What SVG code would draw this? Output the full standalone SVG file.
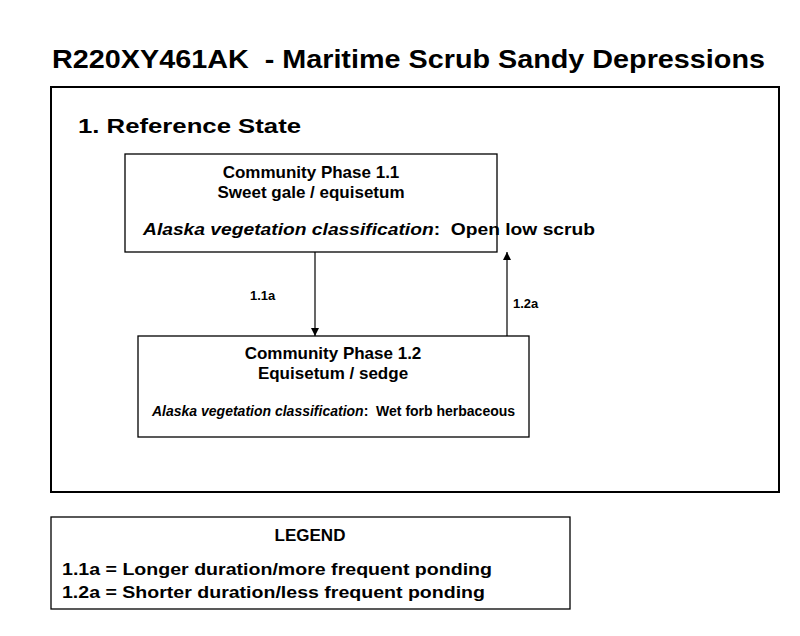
<svg xmlns="http://www.w3.org/2000/svg" width="800" height="636" viewBox="0 0 800 636" xml:space="preserve">
<style>
text{font-family:"Liberation Sans",Arial,sans-serif;font-weight:bold;fill:#000;white-space:pre}
.box{fill:#fff;stroke:#000;stroke-width:1.3}
.t{font-size:17px}
.c{text-anchor:middle}
.con{stroke:#000;stroke-width:1.2;fill:none}
</style>
<defs><marker id="ah" viewBox="0 0 10 10" refX="10" refY="5" markerWidth="8" markerHeight="8" markerUnits="userSpaceOnUse" orient="auto"><path d="M0,0L10,5L0,10z" fill="#000"/></marker></defs>
<rect width="800" height="636" fill="#fff"/>
<text x="52" y="68" font-size="25" textLength="713" lengthAdjust="spacingAndGlyphs">R220XY461AK  - Maritime Scrub Sandy Depressions</text>
<rect x="51" y="87" width="728" height="405" fill="none" stroke="#000" stroke-width="2"/>
<text x="78" y="133" font-size="21" textLength="223" lengthAdjust="spacingAndGlyphs">1. Reference State</text>
<g id="phase11">
<rect class="box" x="125" y="154" width="372" height="98"/>
<text class="t c" x="311" y="178">Community Phase 1.1</text>
<text class="t c" x="311" y="198">Sweet gale / equisetum</text>
<text class="t" x="143" y="235" textLength="452" lengthAdjust="spacingAndGlyphs"><tspan font-style="italic">Alaska vegetation classification</tspan>:  Open low scrub</text>
</g>
<g id="phase12">
<rect class="box" x="138" y="336" width="391" height="101"/>
<text class="t c" x="333" y="359">Community Phase 1.2</text>
<text class="t c" x="333" y="379">Equisetum / sedge</text>
<text x="152" y="416" font-size="14"><tspan font-style="italic">Alaska vegetation classification</tspan>:  Wet forb herbaceous</text>
</g>
<g id="connectors">
<line class="con" x1="315" y1="252" x2="315" y2="336" marker-end="url(#ah)"/>
<line class="con" x1="507" y1="336" x2="507" y2="252" marker-end="url(#ah)"/>
<text x="250" y="300" font-size="13">1.1a</text>
<text x="513" y="308" font-size="13">1.2a</text>
</g>
<g id="legend">
<rect class="box" x="51" y="517" width="519" height="92"/>
<text class="c" x="310" y="541" font-size="17">LEGEND</text>
<text x="62" y="575" font-size="17" textLength="430" lengthAdjust="spacingAndGlyphs">1.1a = Longer duration/more frequent ponding</text>
<text x="62" y="598" font-size="17" textLength="423" lengthAdjust="spacingAndGlyphs">1.2a = Shorter duration/less frequent ponding</text>
</g>
</svg>
